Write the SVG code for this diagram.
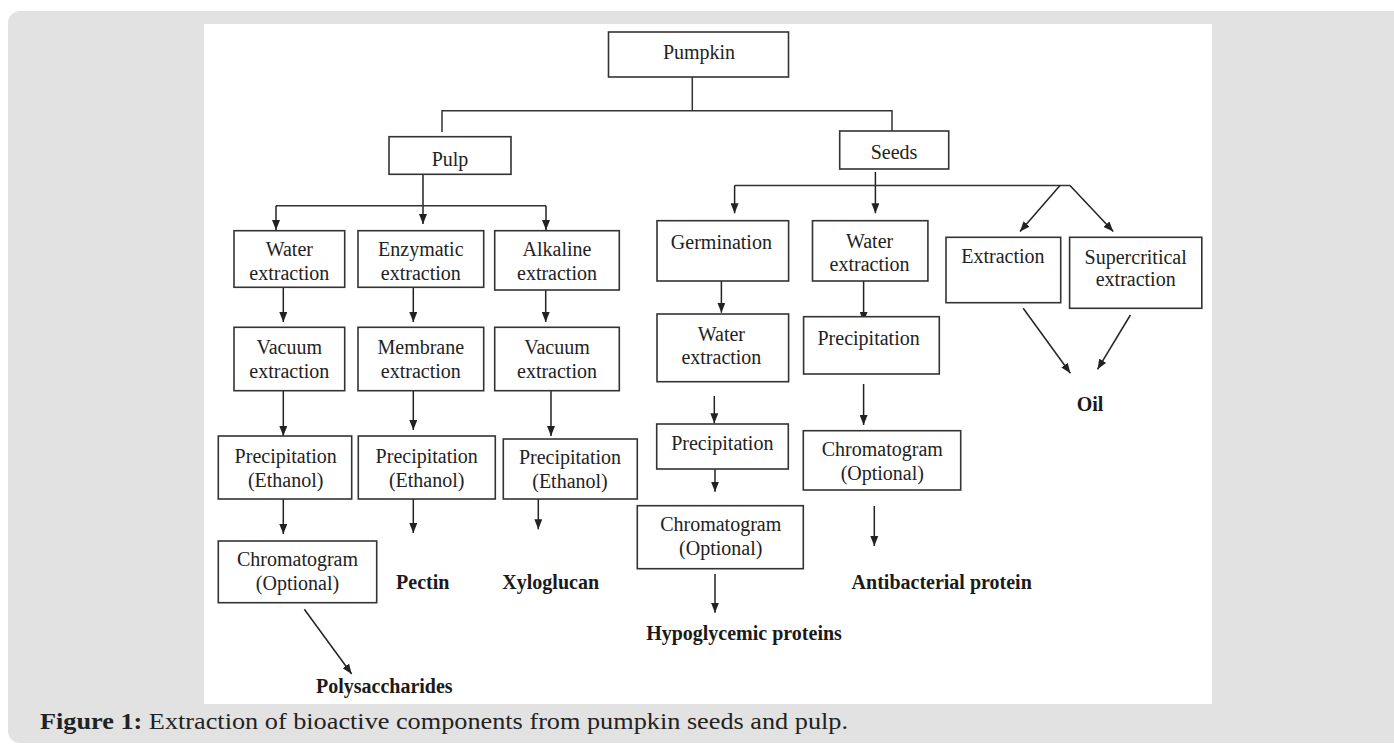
<svg xmlns="http://www.w3.org/2000/svg" width="1394" height="745" viewBox="0 0 1394 745">
<defs>
<marker id="ah" viewBox="0 0 10 8" markerUnits="userSpaceOnUse" markerWidth="10" markerHeight="8" refX="10" refY="4" orient="auto">
<path d="M0,0 L10,4 L0,8 Z" fill="#222"/>
</marker>
</defs>
<style>
.box{fill:#fff;stroke:#333;stroke-width:1.6}
.t{font-family:"Liberation Serif","Times New Roman",serif;font-size:20px;fill:#222;text-anchor:middle}
.b{font-family:"Liberation Serif","Times New Roman",serif;font-size:20px;font-weight:bold;fill:#1a1a1a;text-anchor:middle}
.ln{fill:none;stroke:#333;stroke-width:1.5}
.ar{fill:none;stroke:#222;stroke-width:1.5;marker-end:url(#ah)}
.cap{font-family:"Liberation Serif","Times New Roman",serif;font-size:24px;fill:#222}
</style>
<rect x="0" y="0" width="1394" height="745" fill="#fff"/>
<rect x="8" y="11" width="1400" height="732" rx="12" fill="#e2e2e2"/>
<rect x="204" y="24" width="1008" height="680" fill="#fff"/>

<g id="connectors">
<path class="ln" d="M692.3,77 V110.7 M442,132 V110.7 H892 V131"/>
<path class="ar" d="M423,174.3 V224"/>
<path class="ln" d="M276,205.7 H546"/>
<path class="ar" d="M276,205.7 V230"/>
<path class="ar" d="M546,205.7 V230"/>
<path class="ar" d="M283.3,287.3 V322"/>
<path class="ar" d="M413.3,287.3 V322"/>
<path class="ar" d="M545.7,290 V322"/>
<path class="ar" d="M283.3,390.7 V436"/>
<path class="ar" d="M413.3,390.7 V430"/>
<path class="ar" d="M551,390.7 V436"/>
<path class="ar" d="M283.3,499 V534"/>
<path class="ar" d="M413.3,499 V533"/>
<path class="ar" d="M538.3,489 V529.3"/>
<path class="ar" d="M304.3,609.3 L351.7,674"/>
<path class="ar" d="M875.4,172 V213.3"/>
<path class="ln" d="M734.6,185.5 H1070"/>
<path class="ar" d="M734.6,185.5 V213.3"/>
<path class="ar" d="M1060,185.5 L1020,231.5"/>
<path class="ar" d="M1070,185.5 L1113.3,231.5"/>
<path class="ar" d="M721.4,281 V312.7"/>
<path class="ar" d="M863.6,281 V321.7"/>
<path class="ar" d="M714.3,396 V423.3"/>
<path class="ar" d="M863.6,384 V425"/>
<path class="ar" d="M715,469 V491.7"/>
<path class="ar" d="M715,574 V612.7"/>
<path class="ar" d="M874.3,506 V546"/>
<path class="ar" d="M1023.2,308.3 L1070.4,373.3"/>
<path class="ar" d="M1130.4,315 L1097.5,369.3"/>
</g>

<g id="pumpkin"><rect class="box" x="608.5" y="32" width="180" height="45"/><text class="t" x="699" y="59">Pumpkin</text></g>
<g id="pulp"><rect class="box" x="389" y="136.7" width="122" height="37.6"/><text class="t" x="450" y="166">Pulp</text></g>
<g id="seeds"><rect class="box" x="839.7" y="131" width="109" height="38"/><text class="t" x="894" y="159">Seeds</text></g>

<g id="pulp-water"><rect class="box" x="234" y="230.7" width="110.7" height="56.6"/><text class="t" x="289.3" y="256">Water</text><text class="t" x="289.3" y="279.5">extraction</text></g>
<g id="pulp-enzymatic"><rect class="box" x="358" y="230.7" width="125.7" height="56.6"/><text class="t" x="420.8" y="256">Enzymatic</text><text class="t" x="420.8" y="279.5">extraction</text></g>
<g id="pulp-alkaline"><rect class="box" x="494.7" y="230.7" width="124.6" height="59.3"/><text class="t" x="557" y="256">Alkaline</text><text class="t" x="557" y="279.5">extraction</text></g>

<g id="pulp-vacuum1"><rect class="box" x="234" y="327.3" width="110.7" height="63.4"/><text class="t" x="289.3" y="353.5">Vacuum</text><text class="t" x="289.3" y="377.5">extraction</text></g>
<g id="pulp-membrane"><rect class="box" x="358" y="327.3" width="125.7" height="63.4"/><text class="t" x="420.8" y="353.5">Membrane</text><text class="t" x="420.8" y="377.5">extraction</text></g>
<g id="pulp-vacuum2"><rect class="box" x="494.7" y="327.3" width="124.6" height="63.4"/><text class="t" x="557" y="353.5">Vacuum</text><text class="t" x="557" y="377.5">extraction</text></g>

<g id="pulp-precip1"><rect class="box" x="218.3" y="436" width="133.4" height="63"/><text class="t" x="285.7" y="463">Precipitation</text><text class="t" x="285.7" y="487">(Ethanol)</text></g>
<g id="pulp-precip2"><rect class="box" x="358.3" y="436" width="137" height="63"/><text class="t" x="426.7" y="463">Precipitation</text><text class="t" x="426.7" y="487">(Ethanol)</text></g>
<g id="pulp-precip3"><rect class="box" x="503.3" y="439" width="134" height="60"/><text class="t" x="570" y="464">Precipitation</text><text class="t" x="570" y="488">(Ethanol)</text></g>

<g id="pulp-chrom"><rect class="box" x="218.3" y="541" width="158.4" height="61.7"/><text class="t" x="297.5" y="566">Chromatogram</text><text class="t" x="297.5" y="590">(Optional)</text></g>
<g id="pectin"><text class="b" x="422.7" y="588.5">Pectin</text></g>
<g id="xyloglucan"><text class="b" x="550.7" y="588.5">Xyloglucan</text></g>
<g id="polysaccharides"><text class="b" x="384.3" y="693">Polysaccharides</text></g>

<g id="germination"><rect class="box" x="657" y="220.7" width="131.6" height="60.3"/><text class="t" x="721.4" y="248.5">Germination</text></g>
<g id="seed-water"><rect class="box" x="812.5" y="220.7" width="115.4" height="60.3"/><text class="t" x="869.6" y="248">Water</text><text class="t" x="869.6" y="271">extraction</text></g>
<g id="extraction"><rect class="box" x="946" y="237.3" width="114.7" height="65.4"/><text class="t" x="1002.9" y="263">Extraction</text></g>
<g id="supercritical"><rect class="box" x="1069.6" y="237.3" width="132.2" height="71"/><text class="t" x="1135.7" y="263.5">Supercritical</text><text class="t" x="1135.7" y="286">extraction</text></g>
<g id="oil"><text class="b" x="1090" y="411">Oil</text></g>

<g id="germ-water"><rect class="box" x="657" y="314" width="131.6" height="67.7"/><text class="t" x="721.4" y="341">Water</text><text class="t" x="721.4" y="364">extraction</text></g>
<g id="seed-precip"><rect class="box" x="803.6" y="316.7" width="135.7" height="57.3"/><text class="t" x="868.6" y="345">Precipitation</text></g>
<g id="germ-precip"><rect class="box" x="656.7" y="424" width="131.6" height="45"/><text class="t" x="722.3" y="450">Precipitation</text></g>
<g id="germ-chrom"><rect class="box" x="637.3" y="505.7" width="166" height="63"/><text class="t" x="720.7" y="531">Chromatogram</text><text class="t" x="720.7" y="554.5">(Optional)</text></g>
<g id="seed-chrom"><rect class="box" x="803.3" y="430.7" width="157.4" height="59.3"/><text class="t" x="882.3" y="456">Chromatogram</text><text class="t" x="882.3" y="480">(Optional)</text></g>
<g id="hypoglycemic"><text class="b" x="744" y="640">Hypoglycemic proteins</text></g>
<g id="antibacterial"><text class="b" x="941.7" y="589">Antibacterial protein</text></g>

<g id="caption"><text class="cap" x="40" y="729" textLength="808" lengthAdjust="spacingAndGlyphs"><tspan font-weight="bold">Figure 1:</tspan> Extraction of bioactive components from pumpkin seeds and pulp.</text></g>
</svg>
